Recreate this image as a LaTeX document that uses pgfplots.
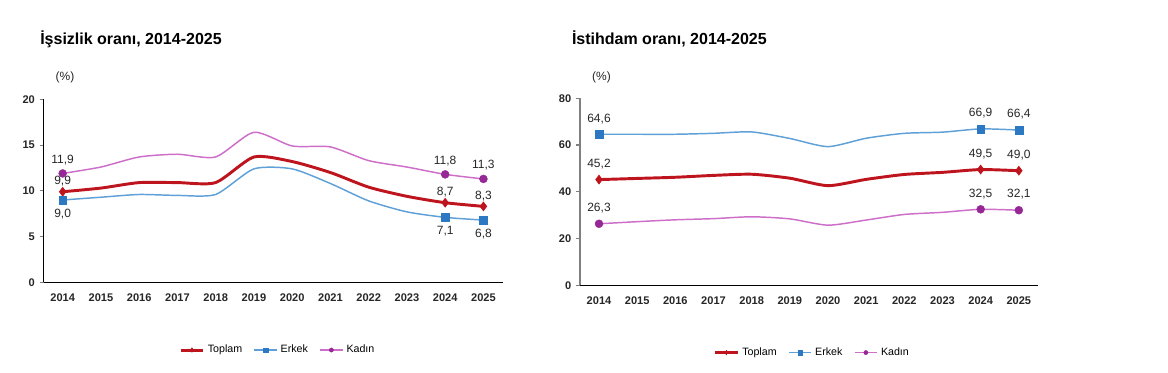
\documentclass[border=0pt]{standalone}
\usepackage{pgfplots}
\pgfplotsset{compat=1.18}
\usepackage{fontspec}
\setmainfont{Liberation Sans}
\definecolor{cTop}{RGB}{190,20,30}
\definecolor{cErkL}{RGB}{95,160,215}
\definecolor{cErkM}{RGB}{45,120,195}
\definecolor{cKadL}{RGB}{205,110,200}
\definecolor{cKadM}{RGB}{150,40,150}
\definecolor{axgray}{RGB}{128,128,128}

\pgfplotsset{
  base/.style={
    scale only axis,
    xmin=-0.5, xmax=11.5, ymin=0,
    axis x line=bottom, axis y line=left,
    axis line style={-, line width=0.9pt},
    xtick={0,...,11},
    xticklabels={2014,2015,2016,2017,2018,2019,2020,2021,2022,2023,2024,2025},
    x tick label style={font=\fontsize{8.3}{9}\selectfont\bfseries, yshift=-2pt, text=black!85},
    y tick label style={font=\fontsize{8.3}{9}\selectfont\bfseries, text=black!85},
    xtick style={draw=none},
    ytick style={line width=0.8pt},
    tick align=outside,
    major tick length=3pt,
    /pgf/number format/assume math mode=true,
    legend columns=3,
    legend style={draw=none, fill=none, font=\fontsize{8}{9}\selectfont, anchor=center,
      inner sep=0pt, outer sep=0pt,
      /tikz/every odd column/.append style={column sep=0.3pt},
      /tikz/every even column/.append style={column sep=6.5pt}},
    legend cell align=left,
    legend image code/.code={\draw[##1, mark indices={2}, mark size=1.6pt] plot coordinates {(0pt,0pt) (8.5pt,0pt) (17pt,0pt)};},
    clip=false,
  },
  lab/.style={only marks, mark=none, forget plot,
    nodes near coords,
    nodes near coords style={font=\fontsize{9}{10}\selectfont, text=black!85,
      /pgf/number format/use comma, /pgf/number format/fixed,
      /pgf/number format/fixed zerofill, /pgf/number format/precision=1,
      /pgf/number format/assume math mode=true},
  },
  tline/.style={cTop, line width=2.2pt, smooth, tension=0.4, mark=diamond*, mark size=3.3pt,
    mark options={fill=cTop, draw=cTop, line width=0.5pt, solid}, mark indices={1,11,12}},
  eline/.style={cErkL, line width=1.1pt, smooth, tension=0.4, mark=square*, mark size=2.9pt,
    mark options={fill=cErkM, draw=cErkM, line width=0.3pt}, mark indices={1,11,12}},
  kline/.style={cKadL, line width=1.1pt, smooth, tension=0.4, mark=*, mark size=3pt,
    mark options={fill=cKadM, draw=cKadM, line width=0.3pt}, mark indices={1,11,12}},
}

\begin{document}
\begin{tikzpicture}
\useasboundingbox (0,0) rectangle (876pt,279.75pt);

\node[anchor=base west, inner sep=0pt, font=\fontsize{12}{14}\selectfont\bfseries] at (30pt,246pt) {İşsizlik oranı, 2014-2025};
\node[font=\fontsize{9}{10}\selectfont, text=black!85] at (48.75pt,222pt) {(\%)};
\node[anchor=base west, inner sep=0pt, font=\fontsize{12}{14}\selectfont\bfseries] at (428.8pt,246pt) {İstihdam oranı, 2014-2025};
\node[font=\fontsize{9}{10}\selectfont, text=black!85] at (451.1pt,222pt) {(\%)};

% Left chart
\begin{axis}[base,
  at={(47pt,68pt)}, anchor=origin,
  width=344.25pt, height=137.25pt,
  ymax=20, ytick={0,5,10,15,20},
  axis line style={-, line width=0.9pt, black},
  legend style={at={(0.511,-0.37)}},
]
\addplot[tline]
  coordinates {(0,9.9)(1,10.3)(2,10.9)(3,10.9)(4,10.9)(5,13.7)(6,13.2)(7,12.0)(8,10.4)(9,9.4)(10,8.7)(11,8.3)};
\addlegendentry{Toplam}
\addplot[eline]
  coordinates {(0,9.0)(1,9.3)(2,9.6)(3,9.5)(4,9.6)(5,12.4)(6,12.4)(7,10.8)(8,8.9)(9,7.7)(10,7.1)(11,6.8)};
\addlegendentry{Erkek}
\addplot[kline]
  coordinates {(0,11.9)(1,12.6)(2,13.7)(3,14.0)(4,13.7)(5,16.4)(6,14.9)(7,14.8)(8,13.3)(9,12.6)(10,11.8)(11,11.3)};
\addlegendentry{Kadın}
\addplot[lab, nodes near coords style={anchor=south, yshift=0.5pt}] coordinates {(0,9.9)(10,8.7)(11,8.3)};
\addplot[lab, nodes near coords style={anchor=north, yshift=-3.5pt}] coordinates {(0,9.0)(10,7.1)(11,6.8)};
\addplot[lab, nodes near coords style={anchor=south, yshift=3pt}] coordinates {(0,11.9)(10,11.8)(11,11.3)};
\end{axis}

% Right chart
\begin{axis}[base,
  at={(449.25pt,65.8pt)}, anchor=origin,
  width=343.5pt, height=140.25pt,
  ymax=80, ytick={0,20,40,60,80},
  x axis line style={black},
  y axis line style={axgray},
  ytick style={axgray},
  legend style={at={(0.508,-0.36)}},
]
\addplot[tline]
  coordinates {(0,45.2)(1,45.7)(2,46.2)(3,47.0)(4,47.5)(5,45.8)(6,42.6)(7,45.3)(8,47.4)(9,48.3)(10,49.5)(11,49.0)};
\addlegendentry{Toplam}
\addplot[eline]
  coordinates {(0,64.6)(1,64.6)(2,64.6)(3,65.0)(4,65.6)(5,62.8)(6,59.3)(7,62.9)(8,65.0)(9,65.5)(10,66.9)(11,66.4)};
\addlegendentry{Erkek}
\addplot[kline]
  coordinates {(0,26.3)(1,27.2)(2,28.0)(3,28.5)(4,29.3)(5,28.4)(6,25.7)(7,27.9)(8,30.3)(9,31.2)(10,32.5)(11,32.1)};
\addlegendentry{Kadın}
\addplot[lab, nodes near coords style={anchor=south, yshift=4.5pt}] coordinates {(0,64.6)(10,66.9)(11,66.4)};
\addplot[lab, nodes near coords style={anchor=south, yshift=4.5pt}] coordinates {(0,45.2)(10,49.5)(11,49.0)};
\addplot[lab, nodes near coords style={anchor=south, yshift=4.5pt}] coordinates {(0,26.3)(10,32.5)(11,32.1)};
\end{axis}
\end{tikzpicture}
\end{document}
